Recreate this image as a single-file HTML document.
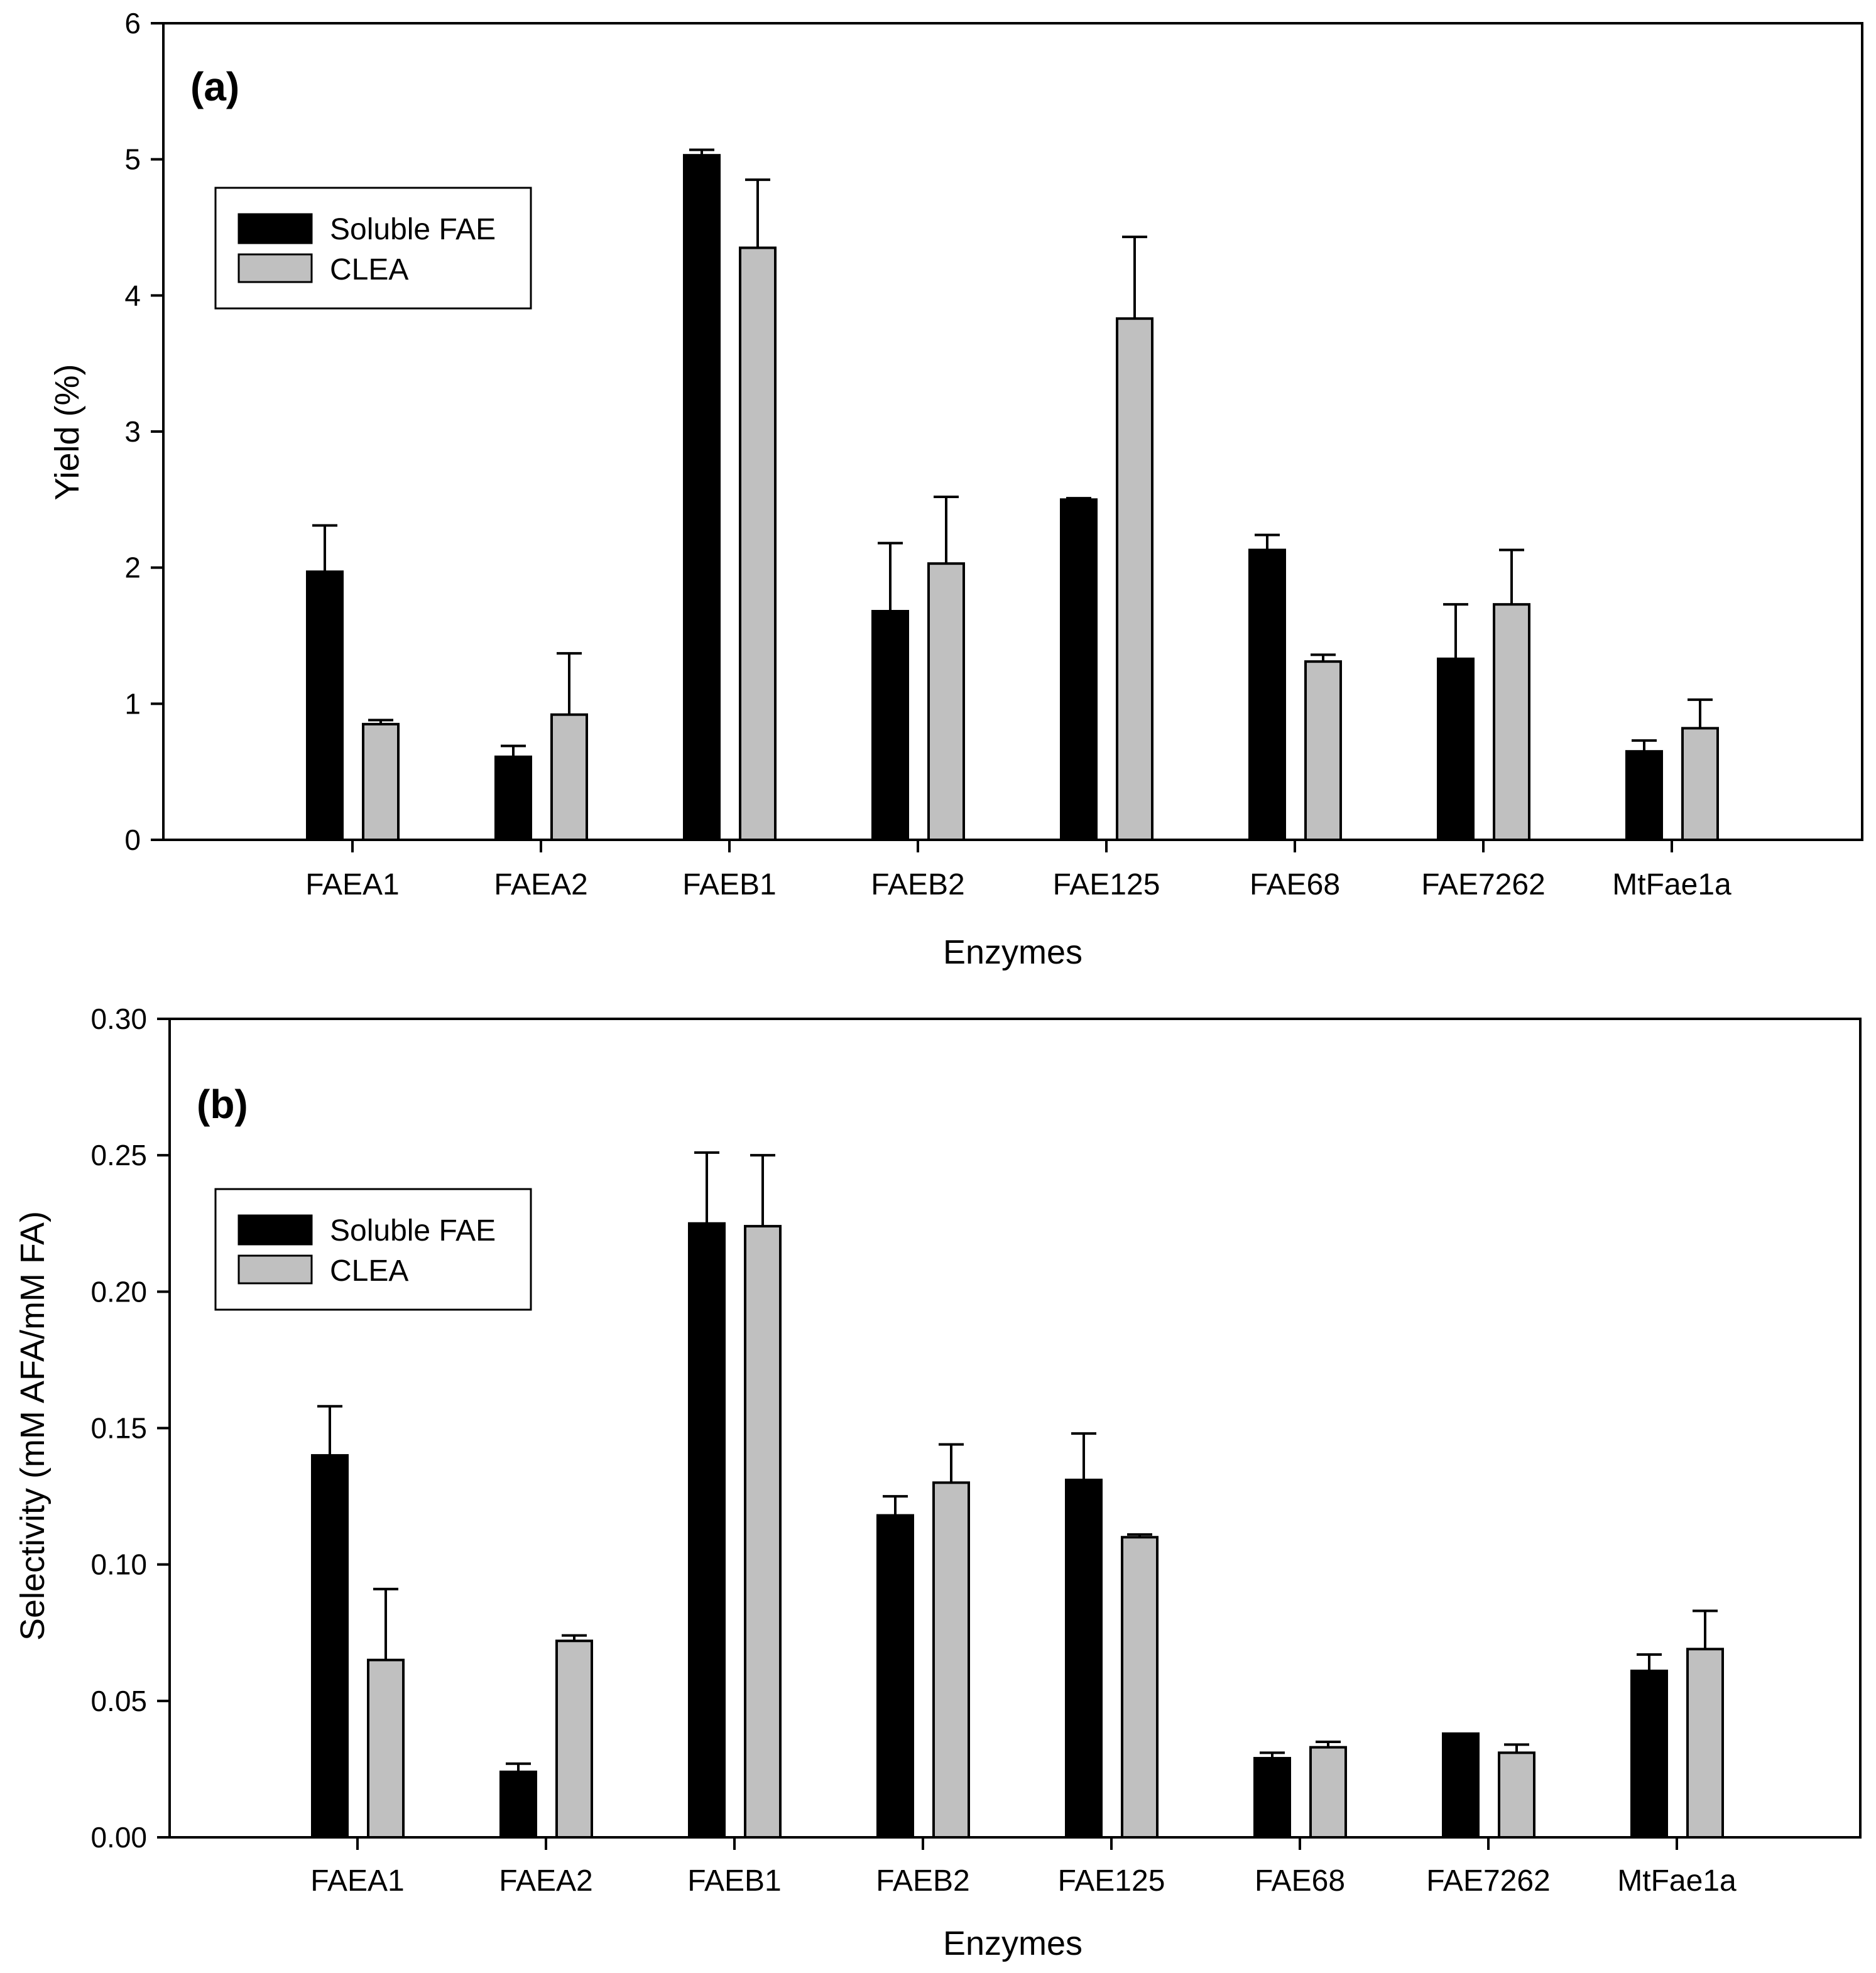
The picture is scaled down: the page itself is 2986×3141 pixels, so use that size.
<!DOCTYPE html>
<html><head><meta charset="utf-8"><style>
html,body{margin:0;padding:0;background:#fff;}
svg{display:block;font-family:"Liberation Sans",Arial,sans-serif;}
</style></head><body>
<svg id="chart" width="2986" height="3141" viewBox="0 0 2986 3141" xmlns="http://www.w3.org/2000/svg"></svg>
<script>
const categories = ["FAEA1","FAEA2","FAEB1","FAEB2","FAE125","FAE68","FAE7262","MtFae1a"];
const yieldSoluble = [1.97,0.61,5.03,1.68,2.50,2.13,1.33,0.65];
const yieldSolubleErr = [2.31,0.69,5.07,2.18,2.51,2.24,1.73,0.73];
const yieldClea = [0.85,0.92,4.35,2.03,3.83,1.31,1.73,0.82];
const yieldCleaErr = [0.88,1.37,4.85,2.52,4.43,1.36,2.13,1.03];
const yieldTicks = ["0","1","2","3","4","5","6"];
const selSoluble = [0.140,0.024,0.225,0.118,0.131,0.029,0.038,0.061];
const selSolubleErr = [0.158,0.027,0.251,0.125,0.148,0.031,0.038,0.067];
const selClea = [0.065,0.072,0.224,0.130,0.110,0.033,0.031,0.069];
const selCleaErr = [0.091,0.074,0.250,0.144,0.111,0.035,0.034,0.083];
const selTicks = ["0.00","0.05","0.10","0.15","0.20","0.25","0.30"];

const NS="http://www.w3.org/2000/svg";
const svg=document.getElementById('chart');
function mk(tag,attrs,parent){const e=document.createElementNS(NS,tag);for(const k in attrs)e.setAttribute(k,attrs[k]);(parent||svg).appendChild(e);return e;}

function panel(p){
  const g=mk('g',{});
  
  
  const yScale=v=>p.bottom-(v-p.ymin)/(p.ymax-p.ymin)*(p.bottom-p.top);
  const xCat=i=>p.x0+p.step*i;
  // bars
  for(let i=0;i<categories.length;i++){
    const cx=xCat(i);
    [[p.s,p.se,'#000',-44,'soluble'],[p.c,p.ce,'#c0c0c0',45,'clea']].forEach(([vals,errs,fill,off,nm])=>{
      const bx=cx+off-28, yt=yScale(vals[i]);
      const r=mk('rect',{x:bx,y:yt,width:56,height:p.bottom-yt,fill:fill,stroke:'#000','stroke-width':4},g);
      
      
      const ye=yScale(errs[i]);
      const l=mk('path',{d:`M${cx+off},${yt}V${ye}M${cx+off-20},${ye}H${cx+off+20}`,stroke:'#000','stroke-width':4,fill:'none'},g);
      
      
    });
    const t=mk('path',{d:`M${cx},${p.bottom}V${p.bottom+20}`,stroke:'#000','stroke-width':4},g);
    
    
    const lb=mk('text',{x:cx,y:p.catY,'font-size':48,'text-anchor':'middle'},g);
    lb.textContent=categories[i];
    
    
  }
  // frame
  const fr=mk('rect',{x:p.left,y:p.top,width:p.right-p.left,height:p.bottom-p.top,fill:'none',stroke:'#000','stroke-width':4},g);
  
  
  p.ticks.forEach((tl,k)=>{
    const v=p.ymin+(p.ymax-p.ymin)*k/(p.ticks.length-1);
    const y=yScale(v);
    const t=mk('path',{d:`M${p.left-20},${y}H${p.left}`,stroke:'#000','stroke-width':4},g);
    
    
    const tx=mk('text',{x:p.left-36,y:y+16,'font-size':46,'text-anchor':'end'},g);
    tx.textContent=tl;
    
    
  });
  const yt=mk('text',{x:0,y:0,'font-size':54,'text-anchor':'middle',transform:`translate(${p.ytX},${p.ytY}) rotate(-90)`},g);
  yt.textContent=p.ytitle;
  
  
  const xt=mk('text',{x:1612,y:p.xtY,'font-size':54,'text-anchor':'middle'},g);
  xt.textContent='Enzymes';
  
  
  const pl=mk('text',{x:p.left+43,y:p.lblY,'font-size':64,'font-weight':'bold'},g);
  pl.textContent=p.label;
  
  
  // legend
  const lg=mk('g',{},g);
  
  
  mk('rect',{x:343,y:p.legY,width:502,height:192,fill:'#fff',stroke:'#000','stroke-width':3},lg);
  const e1=mk('rect',{x:380,y:p.legY+42,width:116,height:46,fill:'#000',stroke:'#000','stroke-width':3},lg);
  
  
  const e2=mk('rect',{x:380,y:p.legY+106,width:116,height:44,fill:'#c0c0c0',stroke:'#000','stroke-width':3},lg);
  
  
  const t1=mk('text',{x:525,y:p.legY+82,'font-size':48},lg);
  t1.textContent='Soluble FAE';
  
  
  const t2=mk('text',{x:525,y:p.legY+146,'font-size':48},lg);
  t2.textContent='CLEA';
  
  
}
panel({name:'panel-a-yield',left:260,right:2964,top:37,bottom:1337,ymin:0,ymax:6,x0:561,step:300,
  s:yieldSoluble,se:yieldSolubleErr,c:yieldClea,ce:yieldCleaErr,ticks:yieldTicks,
  catY:1424,xtY:1534,ytX:125,ytY:688,ytitle:'Yield (%)',label:'(a)',lblY:160,legY:299});
panel({name:'panel-b-selectivity',left:270,right:2961,top:1622,bottom:2925,ymin:0,ymax:0.30,x0:569,step:300,
  s:selSoluble,se:selSolubleErr,c:selClea,ce:selCleaErr,ticks:selTicks,
  catY:3010,xtY:3112,ytX:70,ytY:2270,ytitle:'Selectivity (mM AFA/mM FA)',label:'(b)',lblY:1780,legY:1893});
</script>
</body></html>
